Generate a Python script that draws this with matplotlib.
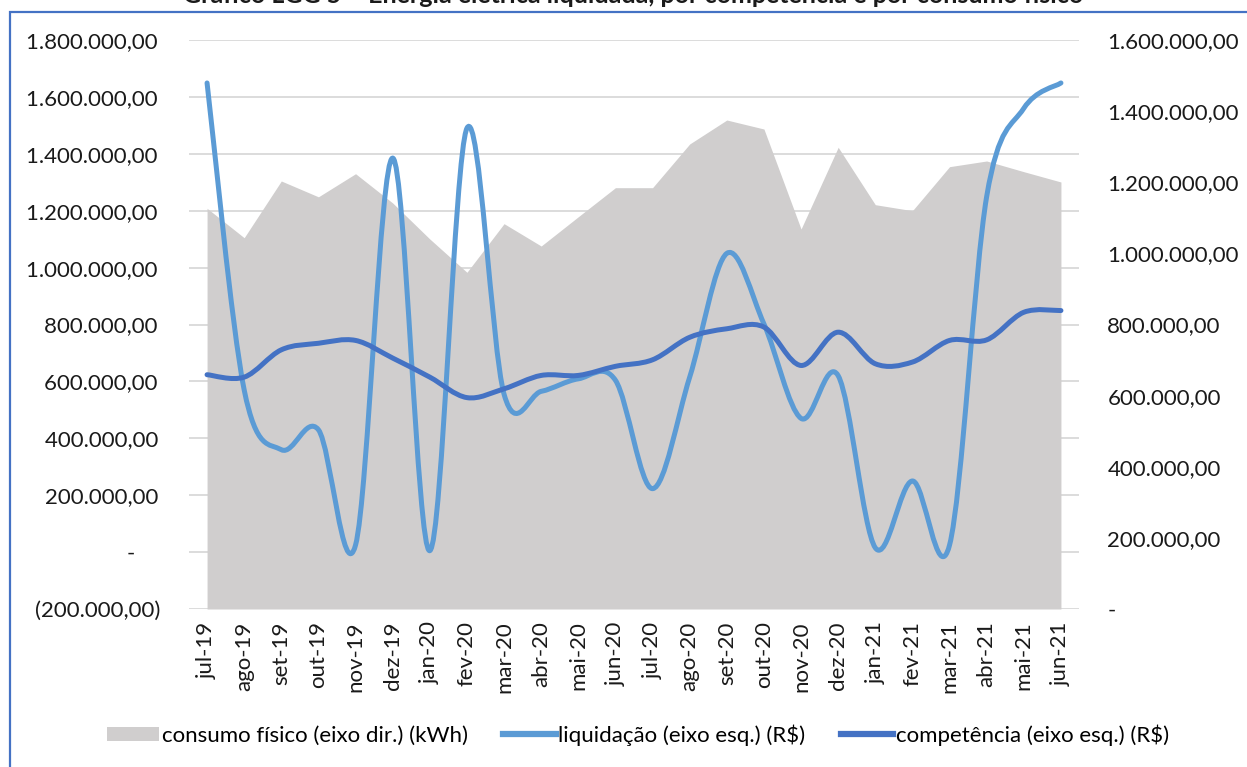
import matplotlib
matplotlib.use("Agg")
import matplotlib.pyplot as plt
from matplotlib.path import Path
from matplotlib.patches import PathPatch, Patch, Rectangle
from matplotlib.lines import Line2D

plt.rcParams['font.family'] = ['Lato', 'DejaVu Sans']

# --- data ---
meses = ['jul-19', 'ago-19', 'set-19', 'out-19', 'nov-19', 'dez-19',
         'jan-20', 'fev-20', 'mar-20', 'abr-20', 'mai-20', 'jun-20',
         'jul-20', 'ago-20', 'set-20', 'out-20', 'nov-20', 'dez-20',
         'jan-21', 'fev-21', 'mar-21', 'abr-21', 'mai-21', 'jun-21']

# consumo físico (kWh) - eixo direito
consumo = [1126700, 1044000, 1203500, 1159000, 1224000, 1141700,
           1040400, 946800, 1083500, 1020700, 1103000, 1184700,
           1184700, 1307600, 1375000, 1349700, 1068500, 1298300,
           1136900, 1120000, 1243800, 1259800, 1229700, 1200700]

# liquidação (R$) - eixo esquerdo
liquidacao = [1649000, 570000, 360000, 430000, 25000, 1385000,
              5000, 1490000, 555000, 565000, 609000, 604000,
              223000, 615000, 1050000, 802000, 470000, 620000,
              15000, 250000, 25000, 1250000, 1560000, 1649000]

# competência (R$) - eixo esquerdo
competencia = [623500, 615000, 711000, 734000, 744000, 682000,
               615000, 543000, 574000, 621000, 621000, 653000,
               676000, 755000, 785000, 791000, 656000, 773000,
               662000, 668000, 744000, 746000, 843000, 849000]

ticks_esq = [-200000, 0, 200000, 400000, 600000, 800000,
             1000000, 1200000, 1400000, 1600000, 1800000]
labels_esq = ['(200.000,00)', '-\u2007\u2007', '200.000,00\u2009', '400.000,00\u2009',
              '600.000,00\u2009', '800.000,00\u2009', '1.000.000,00\u2009',
              '1.200.000,00\u2009', '1.400.000,00\u2009', '1.600.000,00\u2009',
              '1.800.000,00\u2009']
ticks_dir = [0, 200000, 400000, 600000, 800000, 1000000, 1200000, 1400000, 1600000]
labels_dir = ['-', '200.000,00', '400.000,00', '600.000,00', '800.000,00',
              '1.000.000,00', '1.200.000,00', '1.400.000,00', '1.600.000,00']

titulo = 'Gráfico LGG 5 – Energia elétrica liquidada, por competência e por consumo físico'

COR_AREA = '#d0cece'
COR_LIQ = '#5b9bd5'
COR_COMP = '#4472c4'
FS = 16


def curva_suave(x, y):
    """Bezier path through every point (Excel-style smoothed line)."""
    n = len(x)
    verts = [(x[0], y[0])]
    codes = [Path.MOVETO]
    for i in range(n - 1):
        a = max(i - 1, 0)
        b = min(i + 2, n - 1)
        c1 = (x[i] + (x[i + 1] - x[a]) / 6, y[i] + (y[i + 1] - y[a]) / 6)
        c2 = (x[i + 1] - (x[b] - x[i]) / 6, y[i + 1] - (y[b] - y[i]) / 6)
        verts += [c1, c2, (x[i + 1], y[i + 1])]
        codes += [Path.CURVE4] * 3
    return Path(verts, codes)


W, H = 1247, 767
fig = plt.figure(figsize=(W / 100, H / 100), dpi=100)

# chart border
fig.patches.append(Rectangle((10 / W, -0.05), 1.2, (H - 12) / H + 0.05,
                             transform=fig.transFigure, fill=False,
                             edgecolor=COR_COMP, linewidth=1.6))

rect = [188.5 / W, 1 - 609 / H, 891 / W, 569 / H]
ax = fig.add_axes(rect)
ax_dir = ax.twinx()
ax_lin = ax.twinx()
ax.set_zorder(1)
ax_dir.set_zorder(2)
ax_lin.set_zorder(3)
for a in (ax_dir, ax_lin):
    a.patch.set_visible(False)

x = list(range(len(meses)))
for a in (ax, ax_dir, ax_lin):
    a.set_xlim(-0.5, len(meses) - 0.5)
    for s in a.spines.values():
        s.set_visible(False)

# left axis: gridlines + labels
ax.set_ylim(-200000, 1800000)
ax.set_yticks(ticks_esq)
ax.set_yticklabels(labels_esq, fontsize=FS, color='#1a1a1a')
ax.grid(axis='y', color='#d9d9d9', linewidth=1.3)
ax.tick_params(axis='y', length=0, pad=20)
ax.set_xticks(x)
ax.set_xticklabels(meses, rotation=90, fontsize=FS, color='#1a1a1a')
ax.tick_params(axis='x', length=0, pad=9)

# right axis: consumo físico area
ax_dir.set_ylim(0, 1600000)
ax_dir.set_yticks(ticks_dir)
ax_dir.set_yticklabels(labels_dir, fontsize=FS, color='#1a1a1a')
ax_dir.tick_params(axis='y', length=0, pad=20)
ax_dir.fill_between(x, consumo, 0, color=COR_AREA, linewidth=0)

# smoothed lines on the left scale
ax_lin.set_ylim(-200000, 1800000)
ax_lin.set_yticks([])
ax_lin.add_patch(PathPatch(curva_suave(x, liquidacao), fill=False,
                           edgecolor=COR_LIQ, linewidth=3.6, capstyle='round',
                           joinstyle='round'))
ax_lin.add_patch(PathPatch(curva_suave(x, competencia), fill=False,
                           edgecolor=COR_COMP, linewidth=3.6, capstyle='round',
                           joinstyle='round'))

handles = [Patch(facecolor=COR_AREA, edgecolor='none'),
           Line2D([], [], color=COR_LIQ, linewidth=4.5),
           Line2D([], [], color=COR_COMP, linewidth=4.5)]
rotulos = ['consumo físico (eixo dir.) (kWh)', 'liquidação (eixo esq.) (R$)',
           'competência (eixo esq.) (R$)']
fig.legend(handles, rotulos, loc='center', bbox_to_anchor=(638 / W, 1 - 735 / H),
           ncol=3, frameon=False, fontsize=FS, handlelength=2.35,
           handleheight=0.6, handletextpad=0.12, columnspacing=1.6)

fig.text(633.5 / W, 1 - 3 / H, titulo, ha='center', va='baseline',
         fontsize=18, fontweight='bold', color='#1a1a1a')

fig.savefig('out.png', dpi=100)
